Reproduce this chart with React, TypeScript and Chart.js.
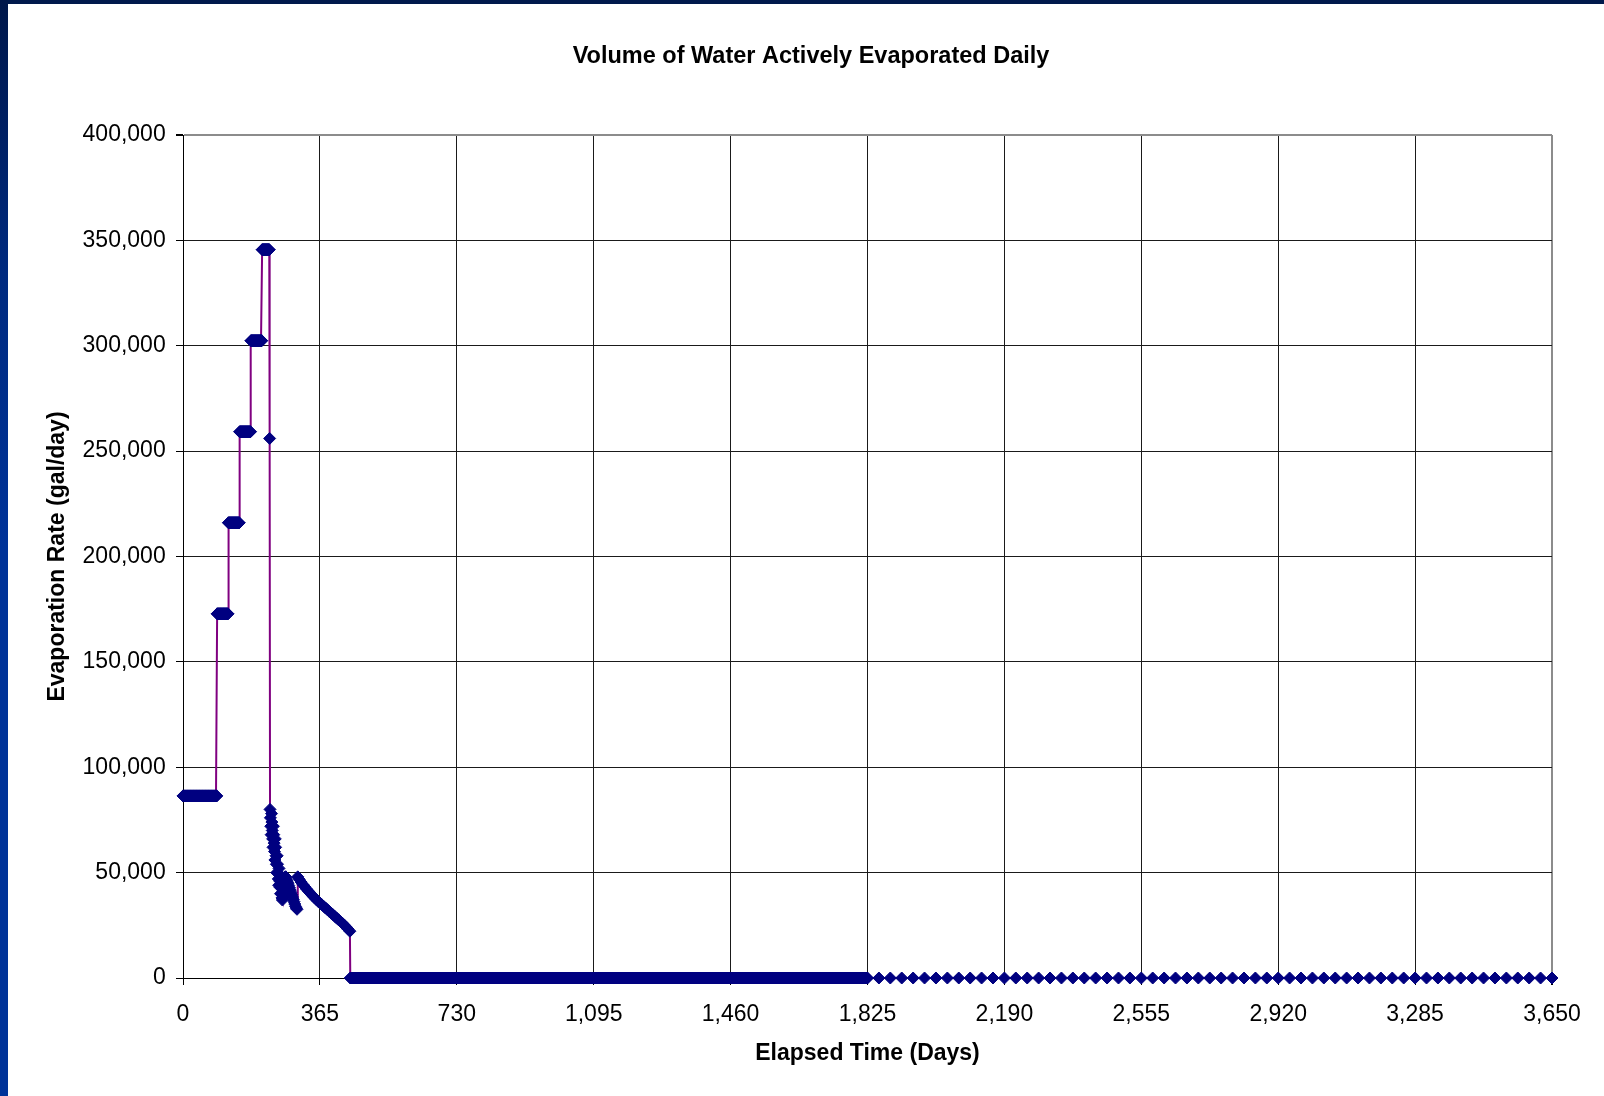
import React, { useEffect, useRef } from 'react';
import { Chart, registerables } from 'chart.js';

Chart.register(...registerables);

const TITLE = 'Volume of Water Actively Evaporated Daily';
const X_TITLE = 'Elapsed Time (Days)';
const Y_TITLE = 'Evaporation Rate (gal/day)';

const X_MIN = 0;
const X_MAX = 3650;
const X_STEP = 365;
const Y_MIN = 0;
const Y_MAX = 400000;
const Y_STEP = 50000;

// Constant-rate stages, read daily: first day, last day, rate (gal/day)
const stageFirstDay = [0, 91, 121, 151, 181, 211, 231, 446];
const stageLastDay = [90, 120, 150, 180, 210, 230, 231, 1825];
const stageRate = [86400, 172800, 216000, 259200, 302400, 345600, 256000, 0];

// Declining period after the peak (estimated readings)
const declineDays = [
  232, 233, 234, 235, 236, 237, 238, 239, 240, 241, 242, 243, 244, 245, 246, 247, 248, 249, 250,
  251, 252, 253, 254, 255, 256, 257, 258, 259, 260, 261, 262, 263, 264, 265, 266, 267, 268, 269,
  270, 271, 272, 273, 274, 276, 278, 280, 282, 284, 286, 288, 290, 292, 294, 296, 298, 300, 302,
  304, 306, 310, 315, 320, 325, 330, 335, 340, 345, 350, 355, 360, 365, 370, 375, 380, 385, 390,
  395, 400, 405, 410, 415, 420, 425, 430, 435, 440, 445,
];
const declineRates = [
  80000, 76000, 72000, 68000, 78000, 74000, 70000, 66000, 62000, 72000, 68000, 64000, 60000,
  56000, 66000, 62000, 58000, 54000, 50000, 58000, 54000, 50000, 47000, 44000, 52000, 49000,
  46000, 43000, 40000, 46000, 43000, 40000, 38000, 37000, 38000, 40000, 42000, 44000, 46000,
  47000, 47500, 48000, 48000, 47000, 46000, 45000, 43900, 42800, 41700, 40600, 39500, 38400,
  37300, 36200, 35100, 34000, 33200, 32600, 48000, 46800, 45500, 44300, 43200, 42100, 41100,
  40100, 39100, 38200, 37300, 36400, 35600, 34800, 34000, 33200, 32400, 31600, 30800, 30000,
  29200, 28400, 27600, 26800, 26000, 25100, 24200, 23200, 22200,
];

// Monthly readings for years 6-10: month numbers and rate
const tailFirstMonth = 61;
const tailLastMonth = 120;
const tailRate = 0;
const DAYS_PER_MONTH = 365 / 12;

function buildPoints() {
  const pts: { x: number; y: number }[] = [];
  for (let s = 0; s < stageRate.length; s++) {
    for (let d = stageFirstDay[s]; d <= stageLastDay[s]; d++) pts.push({ x: d, y: stageRate[s] });
  }
  const n = Math.min(declineDays.length, declineRates.length);
  for (let i = 0; i < n; i++) pts.push({ x: declineDays[i], y: declineRates[i] });
  for (let m = tailFirstMonth; m <= tailLastMonth; m++) pts.push({ x: m * DAYS_PER_MONTH, y: tailRate });
  pts.sort((a, b) => a.x - b.x);
  return pts;
}

const FONT = '"Liberation Sans", Arial, Helvetica, sans-serif';

export default function App() {
  const ref = useRef<HTMLCanvasElement | null>(null);

  useEffect(() => {
    if (!ref.current) return;
    Chart.defaults.font.family = FONT;
    const fmt = (v: any) => Number(v).toLocaleString('en-US');
    const chart = new Chart(ref.current, {
      type: 'line',
      data: {
        datasets: [
          {
            data: buildPoints(),
            borderColor: '#800080',
            borderWidth: 2,
            pointStyle: 'rectRot',
            pointRadius: 6,
            pointBorderWidth: 1,
            pointBackgroundColor: '#000080',
            pointBorderColor: '#000080',
            tension: 0,
            clip: false as any,
          },
        ],
      },
      options: {
        animation: false,
        responsive: false,
        devicePixelRatio: 1,
        layout: { padding: { left: 70, right: 52, top: 0, bottom: 0 } },
        plugins: {
          legend: { display: false },
          tooltip: { enabled: false },
          title: {
            display: true,
            text: TITLE,
            color: '#000',
            font: { size: 23.5, weight: 'bold', family: FONT },
            padding: { top: 42.9, bottom: 63.9 },
          },
        },
        scales: {
          x: {
            type: 'linear',
            min: X_MIN,
            max: X_MAX,
            ticks: {
              stepSize: X_STEP,
              autoSkip: false,
              maxRotation: 0,
              color: '#000',
              padding: 15.5,
              font: { size: 23, family: FONT },
              callback: fmt,
            },
            grid: {
              color: (c: any) => (c.tick && c.tick.value === X_MAX ? '#8c8c8c' : '#1a1a1a'),
              lineWidth: (c: any) => (c.tick && c.tick.value === X_MAX ? 2 : 1),
              tickLength: 7,
              tickColor: '#000',
            },
            border: { color: '#000', width: 1 },
            title: {
              display: true,
              text: X_TITLE,
              color: '#000',
              font: { size: 23, weight: 'bold', family: FONT },
              padding: { top: 12.1, bottom: 28.2 },
            },
            afterFit: (s: any) => {
              s.height = 118;
            },
          },
          y: {
            type: 'linear',
            min: Y_MIN,
            max: Y_MAX,
            ticks: {
              stepSize: Y_STEP,
              color: '#000',
              padding: 10.3,
              font: { size: 23, family: FONT },
              callback: fmt,
            },
            grid: {
              color: (c: any) => (c.tick && c.tick.value === Y_MAX ? '#8c8c8c' : '#1a1a1a'),
              lineWidth: (c: any) => (c.tick && c.tick.value === Y_MAX ? 2 : 1),
              tickLength: 7,
              tickColor: '#000',
            },
            border: { color: '#000', width: 1 },
            title: {
              display: true,
              text: Y_TITLE,
              color: '#000',
              font: { size: 23, weight: 'bold', family: FONT },
              padding: { top: -25.8, bottom: 0 },
            },
            afterFit: (s: any) => {
              s.width = 113;
            },
          },
        },
      },
    });
    return () => chart.destroy();
  }, []);

  return (
    <div style={{ position: 'fixed', left: 0, top: 0, width: 1604, height: 1096, background: '#fff', overflow: 'hidden' }}>
      <canvas ref={ref} width={1604} height={1096} style={{ position: 'absolute', left: 0, top: 0, width: 1604, height: 1096 }} />
      <div style={{ position: 'absolute', left: 0, top: 0, width: 1604, height: 4, background: '#00194c' }} />
      <div
        style={{
          position: 'absolute',
          left: 0,
          top: 0,
          width: 8,
          height: 1096,
          background: 'linear-gradient(to bottom, #00174a 0%, #002a7f 25%, #003399 50%, #003399 100%)',
        }}
      />
    </div>
  );
}
